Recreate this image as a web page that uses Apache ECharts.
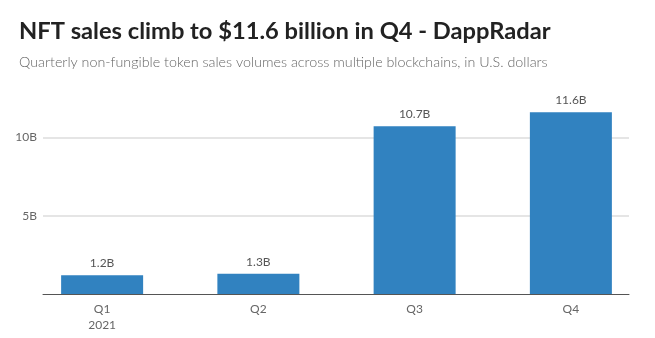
<!DOCTYPE html>
<html>
<head>
<meta charset="utf-8">
<script src="https://cdn.jsdelivr.net/npm/echarts@6/dist/echarts.min.js"></script>
<style>
  html, body { margin: 0; padding: 0; background: #fff; }
  #chart { width: 655px; height: 338px; }
</style>
</head>
<body>
<div id="chart"></div>
<script>
// Quarterly NFT sales volume, billions of U.S. dollars
const quarters = ['Q1\n2021', 'Q2', 'Q3', 'Q4'];
const salesBillions = [1.2, 1.3, 10.7, 11.6];
const valueLabels = ['1.2B', '1.3B', '10.7B', '11.6B'];
const yTicks = [5, 10];

const FONT = 'Lato, "Noto Sans", sans-serif';
const Y_MAX = 12;
const TOP = 106;
const BOTTOM = 44;

const chart = echarts.init(document.getElementById('chart'), null, { renderer: 'canvas' });

chart.setOption({
  animation: false,
  backgroundColor: '#ffffff',
  title: {
    text: 'NFT sales climb to $11.6 billion in Q4 - DappRadar',
    subtext: 'Quarterly non-fungible token sales volumes across multiple blockchains, in U.S. dollars',
    left: 14,
    top: 14,
    itemGap: 12,
    textStyle: { fontFamily: FONT, fontSize: 23.7, fontWeight: 'bold', color: '#222' },
    subtextStyle: { fontFamily: FONT, fontSize: 14.3, fontWeight: 300, color: '#666' }
  },
  grid: [
    // grid carrying the value gridlines and baseline
    { left: 43, right: 26, top: TOP, bottom: BOTTOM },
    // grid carrying the bars and category labels
    { left: 24, right: 6, top: TOP, bottom: BOTTOM }
  ],
  xAxis: [
    {
      type: 'category', gridIndex: 0, data: quarters,
      axisLine: { show: true, lineStyle: { color: '#555', width: 1 } },
      axisTick: { show: false }, axisLabel: { show: false }
    },
    {
      type: 'category', gridIndex: 1, data: quarters,
      axisLine: { show: false }, axisTick: { show: false },
      axisLabel: { fontFamily: FONT, fontSize: 12, color: '#666', margin: 7, lineHeight: 16 }
    }
  ],
  yAxis: [
    {
      type: 'value', gridIndex: 0, min: 0, max: Y_MAX, interval: 5,
      axisLine: { show: false }, axisTick: { show: false },
      axisLabel: {
        fontFamily: FONT, fontSize: 12, color: '#666', margin: 6,
        showMinLabel: false, showMaxLabel: false,
        formatter: v => (yTicks.includes(v) ? v + 'B' : '')
      },
      splitLine: { show: true, showMinLine: false, showMaxLine: false, lineStyle: { color: '#dcdcdc', width: 1.5 } }
    },
    {
      type: 'value', gridIndex: 1, min: 0, max: Y_MAX, interval: 5, show: false,
      splitLine: { show: false }
    }
  ],
  series: [{
    type: 'bar',
    xAxisIndex: 1, yAxisIndex: 1,
    data: salesBillions,
    barWidth: 82,
    itemStyle: { color: '#3182c0' },
    label: {
      show: true, position: 'top', distance: 6,
      fontFamily: FONT, fontSize: 12, color: '#555',
      formatter: p => valueLabels[p.dataIndex]
    }
  }]
});
</script>
</body>
</html>
